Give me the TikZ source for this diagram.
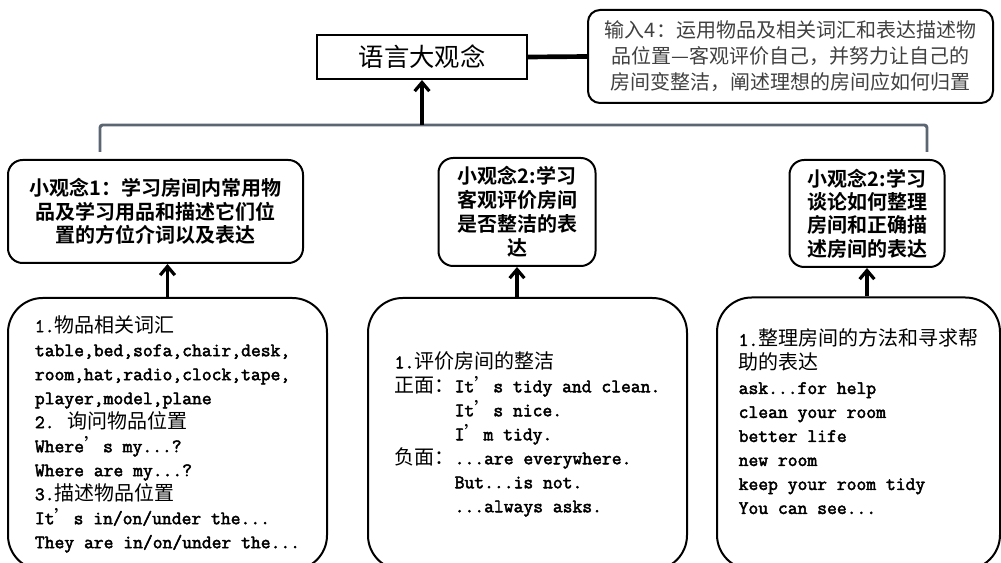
\documentclass[tikz,border=0pt]{standalone}
\usepackage{fontspec}
\setmainfont{Noto Sans CJK SC}[BoldFont={* Bold}]
\newfontfamily\entt{Latin Modern Mono}[FakeBold=2.5]
\usetikzlibrary{arrows.meta,positioning}
\definecolor{BracketColor}{RGB}{92,102,114}
\definecolor{NoteColor}{RGB}{64,64,64}

\newcommand\en[1]{{\entt\fontsize{14.3}{18}\selectfont #1}}
\newcommand\ap{{\normalfont ’}}

\begin{document}
\begin{tikzpicture}[x=0.75pt, y=-0.75pt,
    bigbox/.style={draw, line width=1.5pt, minimum width=157.5pt, minimum height=33pt,
        font=\fontsize{19}{22}\selectfont},
    notebox/.style={draw, line width=1.5pt, rounded corners=9pt, align=center,
        minimum width=303.75pt, minimum height=69.75pt, text=NoteColor,
        font=\fontsize{15}{19.5}\selectfont},
    ideabox/.style={draw, line width=1.5pt, rounded corners=11pt, align=center,
        font=\bfseries\fontsize{15}{17.5}\selectfont},
    listbox/.style={draw, line width=1.5pt, rounded corners=26pt, align=left,
        minimum height=204pt, font=\fontsize{15}{18}\selectfont},
    arrowline/.style={line width=2.4pt, -{Straight Barb[length=6.5pt,width=11pt]}},
    bracket/.style={draw=BracketColor, line width=2.2pt, rounded corners=2pt}]

    \useasboundingbox (0,0) rectangle (1001,563);

    % top row
    \node[bigbox] (bigidea) at (422,57) {语言大观念};
    \node[notebox] (note) at (790.5,56.5) {输入4：运用物品及相关词汇和表达描述物\\
        品位置—客观评价自己，并努力让自己的\\
        房间变整洁，阐述理想的房间应如何归置};
    \draw[line width=3.5pt] (bigidea.east) -- (note.west);

    % small ideas
    \node[ideabox, minimum width=221.25pt, minimum height=77.25pt] (smallA) at (155.5,211.5)
        {小观念1：学习房间内常用物\\品及学习用品和描述它们位\\置的方位介词以及表达};
    \node[ideabox, minimum width=117.75pt, minimum height=81pt,
        font=\bfseries\fontsize{15}{18}\selectfont] (smallB) at (517,212)
        {小观念2:学习\\客观评价房间\\是否整洁的表\\达};
    \node[ideabox, minimum width=116.25pt, minimum height=80.25pt] (smallC) at (867,213.5)
        {小观念2:学习\\谈论如何整理\\房间和正确描\\述房间的表达};

    % bracket up to the big idea
    \coordinate (brL) at (100,152);
    \coordinate (brR) at (927,152);
    \coordinate (brTop) at (422,125);
    \draw[bracket] (brL) |- (brTop) -| (brR);
    \draw[arrowline] (brTop) -- (bigidea.south);

    % lists
    \node[listbox, minimum width=239.25pt] (lowA) at (167.5,434) {%
        \en{1.}物品相关词汇\\
        \en{table,bed,sofa,chair,desk,}\\
        \en{room,hat,radio,clock,tape,}\\
        \en{player,model,plane}\\
        \en{2. }询问物品位置\\
        \en{Where\ap s my...?}\\
        \en{Where are my...?}\\
        \en{3.}描述物品位置\\
        \en{It\ap s in/on/under the...}\\
        \en{They are in/on/under the...}};
    \node[listbox, minimum width=239.25pt] (lowB) at (527.5,434) {%
        \en{1.}评价房间的整洁\\
        正面：\en{It\ap s tidy and clean.}\\
        \hphantom{正面：}\en{It\ap s nice.}\\
        \hphantom{正面：}\en{I\ap m tidy.}\\
        负面：\en{...are everywhere.}\\
        \hphantom{负面：}\en{But...is not.}\\
        \hphantom{负面：}\en{...always asks.}};
    \node[listbox, minimum width=212.25pt] (lowC) at (858.5,433.5) {%
        \en{1.}整理房间的方法和寻求帮\\
        助的表达\\
        \en{ask...for help}\\
        \en{clean your room}\\
        \en{better life}\\
        \en{new room}\\
        \en{keep your room tidy}\\
        \en{You can see...}\\
        ~};

    \draw[arrowline] (lowA.north) -- (lowA.north |- smallA.south);
    \draw[arrowline] (smallB.south |- lowB.north) -- (smallB.south);
    \draw[arrowline] (smallC.south |- lowC.north) -- (smallC.south);

\end{tikzpicture}
\end{document}
